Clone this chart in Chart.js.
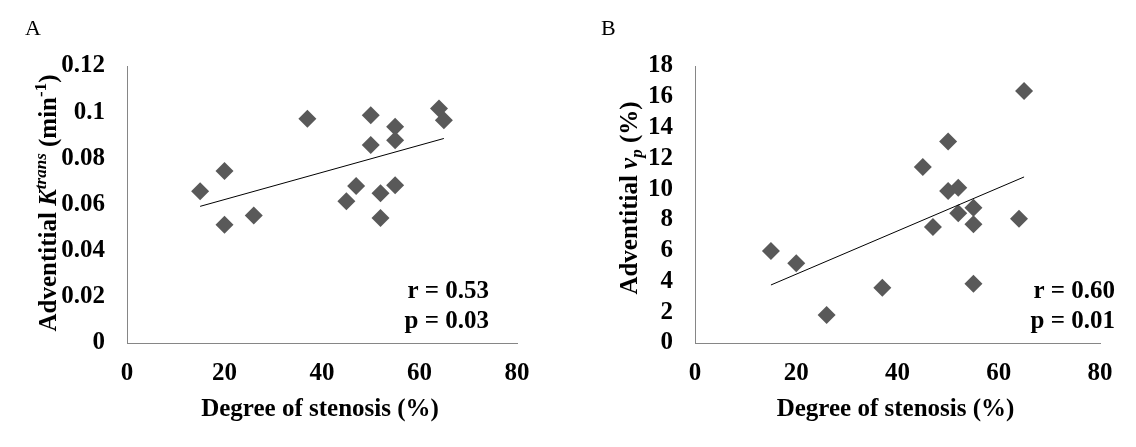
<!DOCTYPE html>
<html>
<head>
<meta charset="utf-8">
<script src="https://cdn.jsdelivr.net/npm/chart.js@4.4.1/dist/chart.umd.min.js"></script>
<style>
    html, body { margin: 0; padding: 0; background: #fff; }
    #wrap { position: relative; width: 1136px; height: 447px; }
    .panel { position: absolute; top: 0; width: 568px; height: 447px; }
</style>
</head>
<body>
<div id="wrap">
    <div class="panel" style="left:0"><canvas id="chartA" width="568" height="447"></canvas></div>
    <div class="panel" style="left:568px"><canvas id="chartB" width="568" height="447"></canvas></div>
</div>
<script>
// --- Data ---
const stenosisA = [15, 20, 20, 26, 37, 45, 47, 50, 50, 52, 52, 55, 55, 55, 64, 65];
const ktransA = [0.0657, 0.0745, 0.0512, 0.0552, 0.0972, 0.0614, 0.0680, 0.0987, 0.0858, 0.0649, 0.0542, 0.0937, 0.0878, 0.0683, 0.1016, 0.0965];
const trendXA = [15, 65];
const trendYA = [0.0592, 0.0886];

const stenosisB = [15, 20, 26, 37, 45, 47, 50, 50, 52, 52, 55, 55, 55, 64, 65];
const vpB = [5.98, 5.18, 1.82, 3.59, 11.44, 7.54, 13.1, 9.88, 10.09, 8.43, 8.79, 7.71, 3.85, 8.08, 16.37];
const trendXB = [15, 65];
const trendYB = [3.77, 10.79];

const xTicks = [0, 20, 40, 60, 80];
const yTicksA = [0, 0.02, 0.04, 0.06, 0.08, 0.1, 0.12];
const yTicksB = [0, 2, 4, 6, 8, 10, 12, 14, 16, 18];

const SERIF = "'Liberation Serif', 'Times New Roman', serif";
const AXIS_GRAY = '#868686';
const MARKER = '#595959';
const FS = 25;

// --- Text overlays: panel letter, rich y title, x title, stats ---
const notesPlugin = {
    id: 'notes',
    afterDraw(chart, args, opts) {
        const ctx = chart.ctx;
        const area = chart.chartArea;
        ctx.save();
        ctx.fillStyle = '#000';

        // panel letter
        ctx.font = '22px ' + SERIF;
        ctx.textAlign = 'left';
        ctx.textBaseline = 'alphabetic';
        ctx.fillText(opts.letter, opts.letterX, 35);

        // x axis title
        ctx.font = 'bold ' + FS + 'px ' + SERIF;
        ctx.textAlign = 'center';
        ctx.fillText('Degree of stenosis (%)', (area.left + area.right) / 2 - 2, 416);

        // stats, right aligned
        ctx.textAlign = 'right';
        ctx.fillText(opts.stats[0], opts.statsX, 298);
        ctx.fillText(opts.stats[1], opts.statsX, 328);

        // rotated y title made of styled runs
        ctx.translate(opts.titleX, opts.titleY);
        ctx.rotate(-Math.PI / 2);
        ctx.textAlign = 'left';
        const runs = opts.yTitle.map(r => {
            const font = (r.italic ? 'italic ' : '') + 'bold ' + (r.size || FS) + 'px ' + SERIF;
            ctx.font = font;
            return { ...r, font, w: ctx.measureText(r.t).width };
        });
        let x = -runs.reduce((s, r) => s + r.w, 0) / 2;
        runs.forEach(r => {
            ctx.font = r.font;
            ctx.fillText(r.t, x, r.dy || 0);
            x += r.w;
        });
        ctx.restore();
    }
};

function makeChart(id, xs, ys, tx, ty, yMax, yTicks, padRight, notes) {
    const tickFont = { family: SERIF, size: FS, weight: 'bold' };
    return new Chart(document.getElementById(id), {
        type: 'scatter',
        data: {
            datasets: [
                {
                    // trendline drawn on top
                    data: tx.map((x, i) => ({ x, y: ty[i] })),
                    showLine: true,
                    borderColor: '#000',
                    borderWidth: 1,
                    pointRadius: 0
                },
                {
                    data: xs.map((x, i) => ({ x, y: ys[i] })),
                    pointStyle: 'rectRot',
                    pointRadius: 9,
                    backgroundColor: MARKER,
                    borderWidth: 0
                }
            ]
        },
        options: {
            responsive: false,
            animation: false,
            layout: { padding: { left: 0, right: padRight, top: 66, bottom: 0 } },
            plugins: {
                legend: { display: false },
                tooltip: { enabled: false },
                notes: notes
            },
            scales: {
                x: {
                    min: 0, max: 80,
                    afterBuildTicks: s => { s.ticks = xTicks.map(v => ({ value: v })); },
                    afterFit: s => { s.height = 104; },
                    grid: { display: false, drawTicks: false },
                    border: { color: AXIS_GRAY, width: 1 },
                    ticks: { font: tickFont, color: '#000', padding: 16, maxRotation: 0, autoSkip: false }
                },
                y: {
                    min: 0, max: yMax,
                    afterBuildTicks: s => { s.ticks = yTicks.map(v => ({ value: v })); },
                    afterFit: s => { s.width = 127; },
                    grid: { display: false, drawTicks: false },
                    border: { color: AXIS_GRAY, width: 1 },
                    ticks: { font: tickFont, color: '#000', padding: 22, autoSkip: false, callback: v => String(v) }
                }
            }
        },
        plugins: [notesPlugin]
    });
}

makeChart('chartA', stenosisA, ktransA, trendXA, trendYA, 0.12, yTicksA, 51, {
    letter: 'A', letterX: 25, titleX: 56, titleY: 203, statsX: 489,
    stats: ['r = 0.53', 'p = 0.03'],
    yTitle: [
        { t: 'Adventitial ' },
        { t: 'K', italic: true },
        { t: 'trans', italic: true, size: 17, dy: -10 },
        { t: ' (min' },
        { t: '-1', size: 17, dy: -10 },
        { t: ')' }
    ]
});

makeChart('chartB', stenosisB, vpB, trendXB, trendYB, 18, yTicksB, 36, {
    letter: 'B', letterX: 33, titleX: 69, titleY: 198, statsX: 547,
    stats: ['r = 0.60', 'p = 0.01'],
    yTitle: [
        { t: 'Adventitial ' },
        { t: 'v', italic: true },
        { t: 'p', italic: true, size: 17, dy: 5 },
        { t: ' (%)' }
    ]
});
</script>
</body>
</html>
